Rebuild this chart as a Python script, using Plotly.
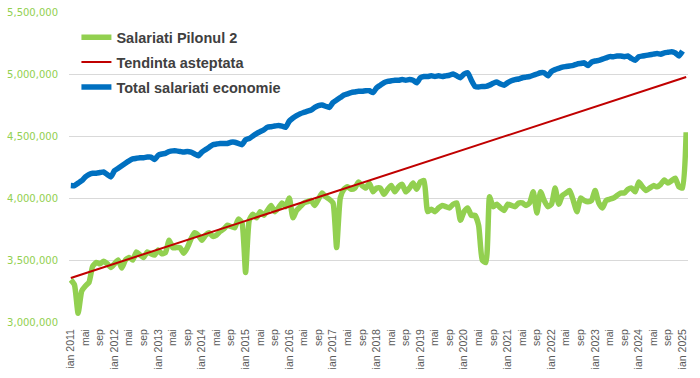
import plotly.graph_objects as go

# Months Jan 2011 .. Feb 2025 (category keys) and their axis labels
luni = ["ian", "feb", "mar", "apr", "mai", "iun", "iul", "aug", "sep", "oct", "noi", "dec"]
months = []
for an in range(2011, 2026):
    for m in range(12):
        if an == 2025 and m > 1:
            break
        months.append(f"{an}-{m + 1:02d}")

tick_keys = months[::4]
tick_text = []
for k in tick_keys:
    an, m = k.split("-")
    m = int(m)
    tick_text.append(f"ian {an}" if m == 1 else luni[m - 1])

salariati_pilonul2 = [
    3340000, 3300000, 3070000, 3250000, 3290000, 3320000, 3450000, 3480000, 3470000, 3490000, 3470000, 3440000,
    3470000, 3500000, 3435000, 3500000, 3520000, 3500000, 3565000, 3540000, 3520000, 3565000, 3550000, 3540000,
    3580000, 3550000, 3560000, 3660000, 3600000, 3600000, 3600000, 3555000, 3600000, 3670000, 3720000, 3700000,
    3660000, 3700000, 3720000, 3690000, 3700000, 3730000, 3750000, 3780000, 3770000, 3760000, 3830000, 3800000,
    3400000, 3820000, 3870000, 3840000, 3890000, 3860000, 3900000, 3940000, 3890000, 3920000, 3960000, 3930000,
    4000000, 3840000, 3900000, 3930000, 3960000, 3970000, 3980000, 3940000, 3990000, 4040000, 4010000, 3990000,
    3960000, 3600000, 4000000, 4070000, 4090000, 4070000, 4080000, 4130000, 4100000, 4080000, 4120000, 4050000,
    4080000, 4080000, 4030000, 4070000, 4100000, 4050000, 4090000, 4110000, 4050000, 4080000, 4120000, 4070000,
    4130000, 4140000, 3890000, 3910000, 3890000, 3920000, 3940000, 3930000, 3920000, 3950000, 3960000, 3820000,
    3890000, 3920000, 3860000, 3860000, 3780000, 3500000, 3480000, 4010000, 3930000, 3950000, 3920000, 3900000,
    3950000, 3940000, 3930000, 3960000, 3960000, 3940000, 3960000, 4050000, 3880000, 4050000, 3980000, 3930000,
    3950000, 4080000, 3950000, 4020000, 4040000, 4060000, 3980000, 3890000, 4000000, 3980000, 3970000, 3980000,
    4060000, 3960000, 3920000, 3980000, 3990000, 4000000, 4020000, 4040000, 4040000, 4070000, 4080000, 4050000,
    4130000, 4090000, 4060000, 4080000, 4100000, 4090000, 4110000, 4145000, 4120000, 4140000, 4160000, 4090000,
    4080000, 4530000,
]

total_salariati = [
    4100000, 4100000, 4120000, 4140000, 4170000, 4190000, 4200000, 4200000, 4205000, 4210000, 4190000, 4170000,
    4220000, 4240000, 4260000, 4280000, 4300000, 4315000, 4320000, 4325000, 4325000, 4330000, 4330000, 4310000,
    4345000, 4355000, 4360000, 4375000, 4380000, 4380000, 4375000, 4370000, 4375000, 4370000, 4355000, 4340000,
    4370000, 4390000, 4410000, 4430000, 4435000, 4440000, 4440000, 4440000, 4450000, 4450000, 4440000, 4430000,
    4470000, 4480000, 4500000, 4520000, 4535000, 4550000, 4570000, 4575000, 4580000, 4585000, 4580000, 4570000,
    4620000, 4645000, 4665000, 4680000, 4690000, 4700000, 4710000, 4730000, 4745000, 4750000, 4740000, 4730000,
    4770000, 4790000, 4810000, 4830000, 4840000, 4850000, 4855000, 4860000, 4860000, 4865000, 4865000, 4850000,
    4890000, 4910000, 4930000, 4940000, 4945000, 4950000, 4950000, 4955000, 4950000, 4955000, 4950000, 4930000,
    4970000, 4980000, 4980000, 4985000, 4980000, 4985000, 4980000, 4985000, 4990000, 5000000, 4985000, 4970000,
    5000000, 5010000, 4950000, 4900000, 4895000, 4900000, 4900000, 4910000, 4925000, 4935000, 4920000, 4910000,
    4930000, 4945000, 4955000, 4960000, 4970000, 4975000, 4980000, 4990000, 5000000, 5010000, 5010000, 4985000,
    5020000, 5035000, 5045000, 5055000, 5060000, 5065000, 5070000, 5080000, 5085000, 5090000, 5068000, 5095000,
    5105000, 5110000, 5120000, 5130000, 5140000, 5140000, 5145000, 5145000, 5140000, 5145000, 5125000, 5110000,
    5140000, 5145000, 5150000, 5155000, 5160000, 5165000, 5160000, 5170000, 5175000, 5180000, 5170000, 5145000,
    5185000,
]

# Expected trend: straight line, read at its two ends
tendinta_x = [months[0], months[-1]]
tendinta = [3355000, 4976000]

y_ticks = [3000000, 3500000, 4000000, 4500000, 5000000, 5500000]

fig = go.Figure()
fig.add_trace(go.Scatter(
    x=months[:len(salariati_pilonul2)], y=salariati_pilonul2, mode="lines",
    name="Salariati Pilonul 2", legendgroup="a",
    line=dict(color="#92D050", width=5.5, shape="spline", smoothing=0.5),
))
fig.add_trace(go.Scatter(
    x=tendinta_x, y=tendinta, mode="lines",
    name="Tendinta asteptata", legendgroup="b",
    line=dict(color="#C00000", width=2),
))
fig.add_trace(go.Scatter(
    x=months[:len(total_salariati)], y=total_salariati, mode="lines",
    name="Total salariati economie", legendgroup="c",
    line=dict(color="#0070C0", width=5.5, shape="spline", smoothing=0.5),
))

fig.update_layout(
    width=700, height=378,
    margin=dict(l=69, r=12, t=12, b=56),
    paper_bgcolor="white", plot_bgcolor="white",
    showlegend=True,
    legend=dict(
        x=0.012, y=0.97, xanchor="left", yanchor="top",
        bgcolor="rgba(0,0,0,0)",
        font=dict(family="Liberation Sans", size=14.5, color="#404040", weight="bold"),
        itemwidth=30, tracegroupgap=3,
    ),
)
fig.update_xaxes(
    type="category", categoryorder="array", categoryarray=months,
    range=[-0.5, len(months) - 0.5], automargin=False,
    tickmode="array", tickvals=tick_keys, ticktext=tick_text,
    tickangle=-90, showgrid=False, showline=False, ticks="",
    ticklabelstandoff=4, ticklabeloverflow="allow",
    tickfont=dict(family="Liberation Sans", size=10.5, color="#595959"),
)
fig.update_yaxes(
    range=[3000000, 5500000], automargin=False,
    tickmode="array", tickvals=y_ticks, tickformat=",d",
    showgrid=True, gridcolor="#D9D9D9", gridwidth=1,
    zeroline=False, showline=False, ticks="",
    ticklabelstandoff=10, ticklabeloverflow="allow",
    tickfont=dict(family="DejaVu Sans", size=10, color="#92D050"),
)

fig.write_html(
    "out.html",
    config={"displayModeBar": False},
    post_script="document.body.style.margin='0';",
)
